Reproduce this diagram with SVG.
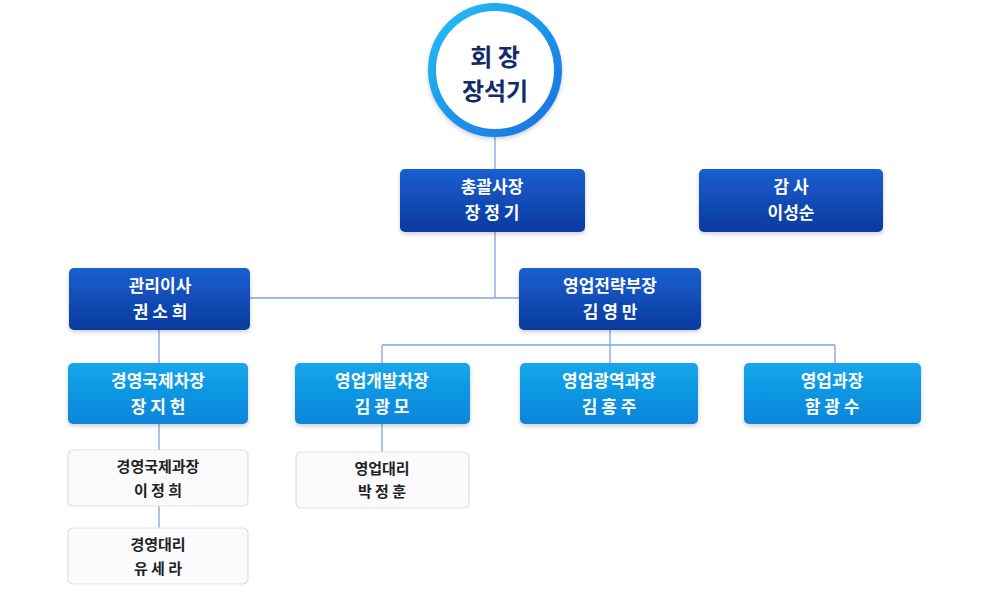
<svg xmlns="http://www.w3.org/2000/svg" width="992" height="607" viewBox="0 0 992 607">
<defs>
<linearGradient id="dk" x1="0" y1="0" x2="0" y2="1"><stop offset="0" stop-color="#1a5fd0"/><stop offset="1" stop-color="#0a3a9e"/></linearGradient>
<linearGradient id="lt" x1="0" y1="0" x2="0" y2="1"><stop offset="0" stop-color="#14a6ec"/><stop offset="1" stop-color="#0a85d8"/></linearGradient>
<linearGradient id="ring" x1="0" y1="0" x2="1" y2="1"><stop offset="0" stop-color="#22c0f5"/><stop offset="1" stop-color="#1a6ee0"/></linearGradient>
<filter id="sh" x="-10%" y="-10%" width="120%" height="130%"><feDropShadow dx="0" dy="2" stdDeviation="2" flood-color="#003" flood-opacity="0.2"/></filter>
</defs>
<style>
.dk{fill:url(#dk);filter:url(#sh)}
.lt{fill:url(#lt);filter:url(#sh)}
.wh{fill:#fbfbfd;stroke:#dcdfe5;stroke-width:1.2}
text{font-family:"Noto Sans CJK KR","Noto Sans",sans-serif;font-weight:bold;text-anchor:middle}
.w{fill:#fff;font-size:17px}
.b{fill:#222;font-size:15px}
.c{stroke:#7aa6e6;stroke-width:1.3;fill:none}
</style>
<rect width="992" height="607" fill="#fff"/>
<g id="connectors">
<path class="c" d="M495 136V169M495 232V298M250 298H519M159 330V363M610 330V345M382 345H835M382 345V363M610 345V363M835 345V363M159 424V450M159 506V528M382 424V452"/>
</g>
<g id="chairman"><circle cx="495" cy="70" r="63" fill="#fff" stroke="url(#ring)" stroke-width="8" filter="url(#sh)"/>
<text x="495" y="66" fill="#132a6b" font-size="24">회 장</text><text x="495" y="100" fill="#132a6b" font-size="24">장석기</text></g>
<g id="president"><rect class="dk" x="400" y="169" width="185" height="63" rx="5"/><text class="w" x="492" y="193">총괄사장</text><text class="w" x="492" y="219">장 정 기</text></g>
<g id="auditor"><rect class="dk" x="699" y="169" width="184" height="63" rx="5"/><text class="w" x="791" y="193">감  사</text><text class="w" x="791" y="219">이성순</text></g>
<g id="director"><rect class="dk" x="69" y="268" width="181" height="62" rx="5"/><text class="w" x="160" y="292">관리이사</text><text class="w" x="160" y="318">권 소 희</text></g>
<g id="sales-head"><rect class="dk" x="519" y="268" width="182" height="62" rx="5"/><text class="w" x="610" y="292">영업전략부장</text><text class="w" x="610" y="318">김 영 만</text></g>
<g id="n1"><rect class="lt" x="68" y="363" width="180" height="61" rx="5"/><text class="w" x="158" y="387">경영국제차장</text><text class="w" x="158" y="413">장 지 헌</text></g>
<g id="n2"><rect class="lt" x="295" y="363" width="175" height="61" rx="5"/><text class="w" x="382" y="387">영업개발차장</text><text class="w" x="382" y="413">김 광 모</text></g>
<g id="n3"><rect class="lt" x="520" y="363" width="178" height="61" rx="5"/><text class="w" x="609" y="387">영업광역과장</text><text class="w" x="609" y="413">김 홍 주</text></g>
<g id="n4"><rect class="lt" x="744" y="363" width="177" height="61" rx="5"/><text class="w" x="832" y="387">영업과장</text><text class="w" x="832" y="413">함 광 수</text></g>
<g id="n5"><rect class="wh" x="68" y="450" width="180" height="56" rx="5"/><text class="b" x="158" y="472">경영국제과장</text><text class="b" x="158" y="496">이 정 희</text></g>
<g id="n6"><rect class="wh" x="68" y="528" width="180" height="56" rx="5"/><text class="b" x="158" y="550">경영대리</text><text class="b" x="158" y="574">유 세 라</text></g>
<g id="n7"><rect class="wh" x="296" y="452" width="173" height="56" rx="5"/><text class="b" x="382" y="474">영업대리</text><text class="b" x="382" y="497">박 정 훈</text></g>
</svg>
